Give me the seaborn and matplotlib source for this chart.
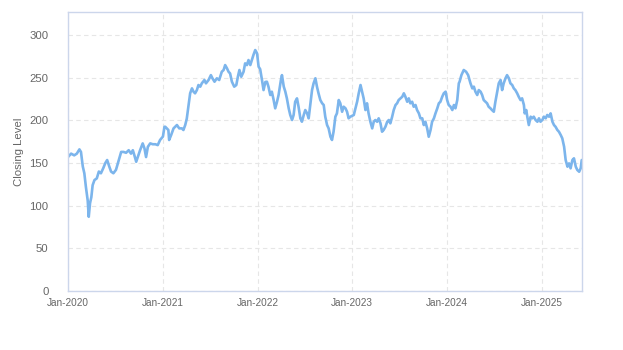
import matplotlib
matplotlib.use("Agg")
import matplotlib.pyplot as plt
import matplotlib.dates as mdates
import pandas as pd
import seaborn as sns

# Daily closing level, sampled through the period
dates = [
    "2020-01-01", "2020-01-13", "2020-01-25", "2020-02-04", "2020-02-14", "2020-02-20",
    "2020-02-27", "2020-03-04", "2020-03-10", "2020-03-17", "2020-03-21", "2020-03-26",
    "2020-03-31", "2020-04-05", "2020-04-12", "2020-04-21", "2020-04-29", "2020-05-07",
    "2020-05-16", "2020-05-24", "2020-05-31", "2020-06-08", "2020-06-15", "2020-06-24",
    "2020-07-04", "2020-07-15", "2020-07-24", "2020-08-02", "2020-08-12", "2020-08-22",
    "2020-08-31", "2020-09-07", "2020-09-13", "2020-09-20", "2020-09-26", "2020-10-05",
    "2020-10-15", "2020-10-22", "2020-10-28", "2020-11-04", "2020-11-13", "2020-11-23",
    "2020-12-03", "2020-12-12", "2020-12-21", "2021-01-01", "2021-01-07", "2021-01-10",
    "2021-01-22", "2021-01-25", "2021-02-02", "2021-02-11", "2021-02-24", "2021-03-05",
    "2021-03-15", "2021-03-21", "2021-03-28", "2021-04-03", "2021-04-09", "2021-04-16",
    "2021-04-23", "2021-04-29", "2021-05-05", "2021-05-12", "2021-05-18", "2021-05-25",
    "2021-05-31", "2021-06-10", "2021-06-16", "2021-06-26", "2021-07-05", "2021-07-11",
    "2021-07-19", "2021-07-28", "2021-08-06", "2021-08-16", "2021-08-23", "2021-08-29",
    "2021-09-05", "2021-09-11", "2021-09-17", "2021-09-24", "2021-10-03", "2021-10-11",
    "2021-10-17", "2021-10-23", "2021-10-30", "2021-11-08", "2021-11-14", "2021-11-21",
    "2021-11-27", "2021-12-04", "2021-12-10", "2021-12-16", "2021-12-23", "2021-12-30",
    "2022-01-05", "2022-01-11", "2022-01-18", "2022-01-24", "2022-01-31", "2022-02-06",
    "2022-02-12", "2022-02-19", "2022-02-25", "2022-03-04", "2022-03-10", "2022-03-17",
    "2022-03-23", "2022-04-01", "2022-04-05", "2022-04-12", "2022-04-18", "2022-04-24",
    "2022-05-01", "2022-05-07", "2022-05-14", "2022-05-20", "2022-05-26", "2022-06-02",
    "2022-06-08", "2022-06-15", "2022-06-21", "2022-06-28", "2022-07-04", "2022-07-11",
    "2022-07-17", "2022-07-23", "2022-07-30", "2022-08-05", "2022-08-12", "2022-08-18",
    "2022-08-24", "2022-08-31", "2022-09-07", "2022-09-13", "2022-09-19", "2022-09-26",
    "2022-10-02", "2022-10-09", "2022-10-15", "2022-10-21", "2022-10-28", "2022-11-03",
    "2022-11-10", "2022-11-16", "2022-11-23", "2022-11-29", "2022-12-06", "2022-12-12",
    "2022-12-18", "2022-12-25", "2023-01-07", "2023-01-20", "2023-01-26", "2023-02-02",
    "2023-02-08", "2023-02-14", "2023-02-21", "2023-02-27", "2023-03-05", "2023-03-12",
    "2023-03-19", "2023-03-25", "2023-03-31", "2023-04-07", "2023-04-13", "2023-04-20",
    "2023-04-26", "2023-05-02", "2023-05-09", "2023-05-16", "2023-05-22", "2023-05-28",
    "2023-06-04", "2023-06-10", "2023-06-17", "2023-06-23", "2023-06-29", "2023-07-06",
    "2023-07-13", "2023-07-19", "2023-07-25", "2023-08-01", "2023-08-07", "2023-08-13",
    "2023-08-20", "2023-08-26", "2023-09-02", "2023-09-08", "2023-09-15", "2023-09-21",
    "2023-09-28", "2023-10-04", "2023-10-10", "2023-10-17", "2023-10-23", "2023-10-30",
    "2023-11-05", "2023-11-12", "2023-11-18", "2023-11-25", "2023-12-01", "2023-12-07",
    "2023-12-14", "2023-12-20", "2023-12-27", "2024-01-02", "2024-01-08", "2024-01-15",
    "2024-01-22", "2024-01-28", "2024-02-03", "2024-02-10", "2024-02-16", "2024-02-19",
    "2024-02-26", "2024-03-06", "2024-03-15", "2024-03-23", "2024-04-01", "2024-04-08",
    "2024-04-14", "2024-04-20", "2024-04-27", "2024-05-03", "2024-05-10", "2024-05-16",
    "2024-05-22", "2024-05-29", "2024-06-04", "2024-06-10", "2024-06-17", "2024-06-23",
    "2024-06-30", "2024-07-06", "2024-07-13", "2024-07-19", "2024-07-26", "2024-08-01",
    "2024-08-07", "2024-08-14", "2024-08-20", "2024-08-27", "2024-09-02", "2024-09-09",
    "2024-09-15", "2024-09-21", "2024-09-28", "2024-10-04", "2024-10-11", "2024-10-17",
    "2024-10-24", "2024-10-27", "2024-11-02", "2024-11-06", "2024-11-12", "2024-11-19",
    "2024-11-25", "2024-12-01", "2024-12-08", "2024-12-15", "2024-12-21", "2024-12-27",
    "2025-01-03", "2025-01-09", "2025-01-16", "2025-01-22", "2025-01-29", "2025-02-04",
    "2025-02-11", "2025-02-17", "2025-02-23", "2025-03-02", "2025-03-08", "2025-03-15",
    "2025-03-21", "2025-03-28", "2025-04-03", "2025-04-10", "2025-04-16", "2025-04-22",
    "2025-04-29", "2025-05-05", "2025-05-12", "2025-05-18", "2025-05-25", "2025-05-31",
    "2025-06-04",
]
closing = [
    157, 161, 159, 161, 166, 163,
    146, 138, 122, 106, 87, 103,
    110, 124, 130, 132, 140, 138,
    144, 150, 153.5, 146, 140, 138,
    142, 153.5, 163, 163, 162, 165,
    161, 165, 159, 151.5, 157, 165,
    173, 167, 157, 169, 173, 172,
    172, 171, 177, 181, 192.5, 192.5,
    188.7, 177, 183, 190.6, 194.5, 190.6,
    190.6, 188.7, 194.5, 202, 216, 231.7,
    237.5, 233.6, 231.7, 235.5, 241.4, 239.5,
    243.4, 247.3, 243.4, 247.3, 253, 249.3,
    245.3, 249.3, 247.3, 257, 259, 264.8,
    261, 257, 255, 245.3, 239.5, 241.4,
    251.1, 259, 251.1, 257, 266.8, 264.8,
    270.7, 264.8, 270.7, 276.6, 282.4, 278.5,
    262.9, 260, 247.3, 235.5, 245, 245.3,
    239.5, 229.7, 233.6, 223.8, 214.1, 221.8,
    229.7, 247.3, 253, 239.5, 233.6, 225.8,
    214.1, 206.3, 200.4, 206.3, 221.8, 225.8,
    216, 202.4, 198.4, 206.3, 212.1, 208.2,
    202.4, 218, 235.5, 243.4, 249.3, 239.5,
    231.7, 223.8, 220, 218, 204.3, 194.5,
    190.6, 180.8, 177, 186.7, 204.3, 208.2,
    223.8, 220, 210.1, 216, 214.1, 210.1,
    202.4, 204.3, 206.3, 222, 231.7, 241.4,
    233.6, 225.8, 212.1, 220, 208.2, 198.4,
    190.6, 198.4, 200.4, 198.4, 202.4, 196.5,
    186.7, 188.7, 192.5, 198.4, 200.4, 196.5,
    204.3, 212.1, 218, 220, 223.8, 225.8,
    227.7, 231.7, 227.7, 221.8, 225.8, 220,
    221.8, 216, 218, 212.1, 208.2, 202.4,
    202.4, 194.5, 198.4, 190.6, 180.8, 188.7,
    198.4, 202.4, 208.2, 214.1, 220, 221.8,
    227.7, 231.7, 233.6, 223.8, 218, 216,
    212.1, 218, 214.1, 223.8, 243.4, 245.3,
    253, 259, 257, 253, 243.4, 237.5,
    239.5, 233.6, 229.7, 235.5, 233.6, 229.7,
    223.8, 221.8, 220, 216, 214.1, 212.1,
    210.1, 221.8, 233.6, 243.4, 247.3, 235.5,
    243.4, 249.3, 253, 249.3, 243.4, 241.4,
    237.5, 235.5, 231.7, 227.7, 223.8, 225.8,
    218, 208.2, 212.1, 204.3, 194.5, 204.3,
    202.4, 204.3, 200.4, 198.4, 202.4, 198.4,
    200.4, 204.3, 202.4, 206.3, 204.3, 208.2,
    198.4, 194.5, 192.5, 188.7, 186.7, 182.8,
    178.9, 169.1, 153.5, 145.7, 149.6, 143.8,
    153.5, 155.5, 145.7, 141.8, 139.8, 143.8,
    153.5,
]
year_ticks = ["2020-01-01", "2021-01-01", "2022-01-01", "2023-01-01",
              "2024-01-01", "2025-01-01"]
y_ticks = [0, 50, 100, 150, 200, 250, 300]

df = pd.DataFrame({"Date": pd.to_datetime(dates), "Closing Level": closing})

sns.set_theme(style="white")
plt.rcParams["font.family"] = ["Liberation Sans", "DejaVu Sans"]

fig = plt.figure(figsize=(6.23, 3.5), dpi=100)
ax = fig.add_axes([68 / 623, 1 - 291 / 350, (582 - 68) / 623, (291 - 12) / 350])

sns.lineplot(data=df, x="Date", y="Closing Level", ax=ax,
             color="#7cb5ec", linewidth=1.9)

ax.set_xlim(pd.Timestamp("2020-01-01"), pd.Timestamp("2025-06-05"))
ax.set_ylim(0, 327)
ax.set_yticks(y_ticks)
ax.set_xticks(pd.to_datetime(year_ticks))
ax.xaxis.set_major_formatter(mdates.DateFormatter("%b-%Y"))

ax.grid(True, which="major", axis="both", color="#e6e6e6",
        linestyle=(0, (4, 3)), linewidth=0.8)
ax.set_axisbelow(True)

for side in ["top", "right", "bottom", "left"]:
    ax.spines[side].set_visible(True)
    ax.spines[side].set_color("#ccd6eb")
    ax.spines[side].set_linewidth(1.0)

ax.tick_params(axis="y", length=0, pad=14, labelsize=8.2, labelcolor="#666666")
ax.tick_params(axis="x", length=0, pad=5, labelsize=7.2, labelcolor="#666666")
ax.set_xlabel("")
ax.set_ylabel("Closing Level", fontsize=8.2, color="#666666", labelpad=4)

fig.savefig("out.png", dpi=100)
